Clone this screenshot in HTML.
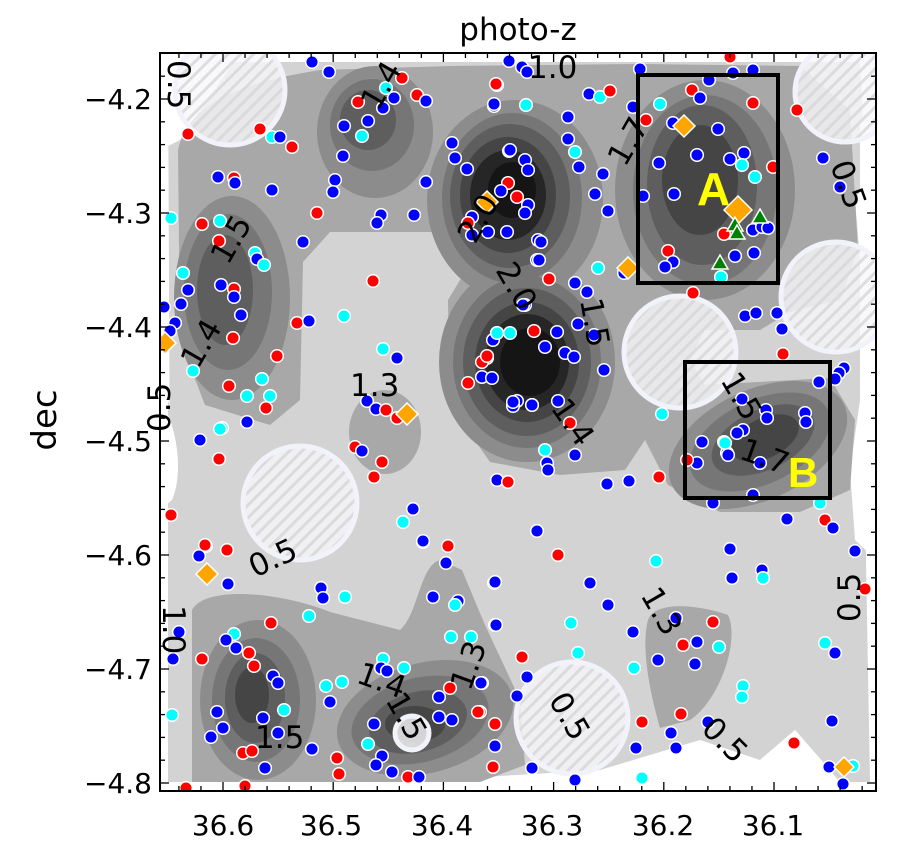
<!DOCTYPE html>
<html><head><meta charset="utf-8"><style>
html,body{margin:0;padding:0;background:#fff;}
svg{display:block;font-family:"DejaVu Sans","Liberation Sans",sans-serif;}
</style></head><body>
<svg id="s" width="919" height="856" viewBox="0 0 919 856" xmlns="http://www.w3.org/2000/svg">
<defs>
<pattern id="h" width="9" height="9" patternUnits="userSpaceOnUse" patternTransform="rotate(-45)">
<rect width="9" height="9" fill="#f7f7fb" fill-opacity="0.8"/><rect width="9" height="3" fill="#d6d6d8" fill-opacity="0.8"/>
</pattern>
<clipPath id="cp"><rect x="160" y="53" width="716" height="738"/></clipPath>
</defs>
<g clip-path="url(#cp)">
<rect x="160" y="53" width="716" height="738" fill="#fff"/>
<path d="M190,62 L860,62 L866,180 L855,200 L866,330 L866,560 L870,782 L840,782 L795,730 L760,760 L700,740 L600,770 L400,782 L168,782 L168,400 L185,470 L170,500 L168,62 Z" fill="#d3d3d3"/>
<path d="M160,53 L240,53 L180,140 L160,150 Z" fill="#fff"/>
<path d="M860,120 L876,110 L876,560 L855,540 L850,470 L860,400 Z" fill="#fff"/>
<path d="M160,400 C175,420 185,470 172,500 L160,510 Z" fill="#fff"/>
<path d="M710,791 L760,760 L795,730 L830,770 L845,791 Z" fill="#fff"/>
<g fill="#a8a8a8">
<path d="M178,150 C190,95 260,80 320,70 L450,66 L640,64 L800,66 L850,110 L858,250 L840,300 L790,312 L760,330 L705,330 L690,360 L705,385 L830,378 L855,420 L850,490 L800,512 L720,512 L668,485 L645,440 L625,470 L560,475 L490,462 L450,405 L448,300 L475,255 L440,232 L330,232 L303,262 L300,400 L270,425 L205,405 L180,340 Z"/>
<path d="M192,610 C205,585 280,592 330,612 L400,630 C418,615 420,565 440,560 L462,570 L485,625 L520,700 L525,765 L480,782 L192,782 Z"/>
<ellipse cx="385" cy="432" rx="36" ry="42"/>
<path d="M648,620 C655,600 700,605 728,615 C740,640 720,700 690,720 L660,728 C652,700 640,650 648,620 Z"/>
</g>
<g fill="#8c8c8c">
<ellipse cx="375" cy="132" rx="58" ry="66"/>
<ellipse cx="515" cy="200" rx="88" ry="100"/>
<ellipse cx="527" cy="362" rx="88" ry="100"/>
<ellipse cx="232" cy="298" rx="58" ry="102"/>
<ellipse cx="705" cy="190" rx="90" ry="110"/>
<ellipse cx="758" cy="445" rx="95" ry="55" transform="rotate(-25 758 445)"/>
<ellipse cx="258" cy="700" rx="58" ry="80"/>
<ellipse cx="425" cy="718" rx="90" ry="55" transform="rotate(-15 425 718)"/>
</g>
<g fill="#767676">
<ellipse cx="372" cy="125" rx="42" ry="46"/>
<ellipse cx="512" cy="198" rx="70" ry="85"/>
<ellipse cx="527" cy="362" rx="74" ry="86"/>
<ellipse cx="228" cy="292" rx="44" ry="78"/>
<ellipse cx="705" cy="190" rx="72" ry="95"/>
<ellipse cx="760" cy="442" rx="75" ry="42" transform="rotate(-25 760 442)"/>
<ellipse cx="256" cy="700" rx="44" ry="62"/>
<ellipse cx="420" cy="720" rx="70" ry="42" transform="rotate(-15 420 720)"/>
</g>
<g fill="#5e5e5e">
<ellipse cx="368" cy="120" rx="28" ry="30"/>
<ellipse cx="510" cy="196" rx="60" ry="72"/>
<ellipse cx="527" cy="362" rx="64" ry="74"/>
<ellipse cx="225" cy="290" rx="28" ry="55"/>
<ellipse cx="702" cy="185" rx="55" ry="80"/>
<ellipse cx="763" cy="440" rx="55" ry="30" transform="rotate(-25 763 440)"/>
<ellipse cx="255" cy="698" rx="30" ry="45"/>
<ellipse cx="418" cy="722" rx="50" ry="30" transform="rotate(-15 418 722)"/>
</g>
<g fill="#454545">
<ellipse cx="508" cy="195" rx="48" ry="58"/>
<ellipse cx="527" cy="362" rx="52" ry="60"/>
<ellipse cx="700" cy="180" rx="38" ry="55"/>
<ellipse cx="765" cy="438" rx="36" ry="20" transform="rotate(-25 765 438)"/>
<ellipse cx="252" cy="695" rx="17" ry="28"/>
<ellipse cx="415" cy="724" rx="30" ry="18"/>
</g>
<g fill="#262626">
<ellipse cx="508" cy="195" rx="38" ry="45"/>
<ellipse cx="527" cy="362" rx="42" ry="48"/>
</g>
<g fill="#151515">
<ellipse cx="512" cy="190" rx="24" ry="28"/>
<ellipse cx="530" cy="362" rx="30" ry="34"/>
</g>
<g stroke="#f2f2fa" stroke-width="5" fill="url(#h)">
<circle cx="230" cy="90" r="55"/>
<circle cx="845" cy="92" r="50"/>
<circle cx="836" cy="297" r="55"/>
<circle cx="680" cy="352" r="56"/>
<circle cx="300" cy="503" r="57"/>
<circle cx="572" cy="718" r="56"/>
<circle cx="412" cy="733" r="17"/>
</g>
<g id="dots" stroke="#fff" stroke-width="1.5"></g>
</g>
<g font-size="31" fill="#000">
<text transform="translate(168,60) rotate(90)">0.5</text>
<text transform="translate(528,78)">1.0</text>
<text transform="translate(378,112) rotate(-60)">1.4</text>
<text transform="translate(228,266) rotate(-60)">1.5</text>
<text transform="translate(198,370) rotate(-60)">1.4</text>
<text transform="translate(625,168) rotate(-60)">1.7</text>
<text transform="translate(475,245) rotate(-60)">2.0</text>
<text transform="translate(830,165) rotate(70)">0.5</text>
<text transform="translate(495,270) rotate(60)">2.0</text>
<text transform="translate(580,300) rotate(80)">1.5</text>
<text transform="translate(550,408) rotate(55)">1.4</text>
<text transform="translate(350,396)">1.3</text>
<text transform="translate(170,432) rotate(-90)">0.5</text>
<text transform="translate(255,578) rotate(-25)">0.5</text>
<text transform="translate(163,605) rotate(90)">1.0</text>
<text transform="translate(640,595) rotate(60)">1.3</text>
<text transform="translate(548,700) rotate(60)">0.5</text>
<text transform="translate(700,730) rotate(45)">0.5</text>
<text transform="translate(860,622) rotate(-90)">0.5</text>
<text transform="translate(720,380) rotate(60)">1.5</text>
<text transform="translate(738,458) rotate(20)">1.7</text>
<text transform="translate(255,748)">1.5</text>
<text transform="translate(355,682) rotate(20)">1.4</text>
<text transform="translate(385,700) rotate(60)">1.5</text>
<text transform="translate(470,692) rotate(-70)">1.3</text>
</g>
<rect x="638" y="75" width="140" height="208" fill="none" stroke="#000" stroke-width="4"/>
<rect x="685" y="362" width="145" height="136" fill="none" stroke="#000" stroke-width="4"/>
<text x="697" y="205" font-size="46" font-weight="bold" fill="#ffff00" font-family="Liberation Sans,sans-serif">A</text>
<text x="788" y="487" font-size="42" font-weight="bold" fill="#ffff00" font-family="Liberation Sans,sans-serif">B</text>
<rect x="160" y="53" width="716" height="738" fill="none" stroke="#000" stroke-width="2"/>
<g id="ticks" stroke="#000" stroke-width="1.3"></g>
<g font-size="28" fill="#000" text-anchor="middle">
<text x="223" y="835">36.6</text><text x="331" y="835">36.5</text><text x="442" y="835">36.4</text>
<text x="552" y="835">36.3</text><text x="663" y="835">36.2</text><text x="773" y="835">36.1</text>
</g>
<g font-size="28" fill="#000" text-anchor="end">
<text x="152" y="109">−4.2</text><text x="152" y="223">−4.3</text><text x="152" y="337">−4.4</text>
<text x="152" y="451">−4.5</text><text x="152" y="565">−4.6</text><text x="152" y="679">−4.7</text><text x="152" y="793">−4.8</text>
</g>
<text x="518" y="40" font-size="31" text-anchor="middle">photo-z</text>
<text transform="translate(56,420) rotate(-90)" font-size="34" text-anchor="middle">dec</text>
</svg>
<script>
var NS="http://www.w3.org/2000/svg";
var t=document.getElementById("ticks");
function L(x1,y1,x2,y2){var l=document.createElementNS(NS,"line");l.setAttribute("x1",x1);l.setAttribute("y1",y1);l.setAttribute("x2",x2);l.setAttribute("y2",y2);t.appendChild(l);}
for(var i=-2;i<40;i++){var x=223+i*22.04;if(x<161||x>875)continue;var len=(i%5==0)?9:5;L(x,791,x,791-len);L(x,53,x,53+len);}
for(var i=-3;i<40;i++){var y=783-i*22.8;if(y<54||y>790)continue;var len=(i%5==0)?9:5;L(160,y,160+len,y);L(876,y,876-len,y);}
var C={b:"#0000ff",r:"#ff0000",c:"#00ffff"};
var d="312,62,b 329,72,b 402,78,r 386,88,c 417,95,r 426,101,b 394,98,b 383,108,b 358,102,r 368,121,b 344,126,b 362,136,c 343,156,b 335,180,b 333,192,b 426,182,b 218,177,b 234,178,r 235,183,b 272,190,b 188,134,r 260,129,r 272,137,c 280,137,b 292,147,r 317,213,r 381,215,b 377,223,b 414,215,b 303,242,b 373,281,r 171,218,c 202,224,r 220,221,c 219,241,r 255,253,c 257,259,b 264,265,c 183,273,c 188,290,b 181,304,b 164,307,b 175,323,b 170,331,b 221,285,b 234,289,r 234,297,b 241,315,b 233,338,r 277,356,r 297,323,r 309,321,b 344,316,c 193,371,c 229,386,r 262,379,c 247,396,c 270,396,c 266,408,r 247,422,b 222,428,c 383,349,c 397,358,b 367,401,b 376,409,b 386,410,r 397,418,r 452,143,b 455,158,b 467,169,b 509,151,b 525,160,b 528,170,b 508,183,r 501,191,b 517,197,r 528,205,b 525,213,b 472,217,b 468,223,r 472,235,b 488,232,b 507,232,b 538,240,b 537,260,b 525,305,b 497,333,b 493,340,b 487,358,r 482,362,r 482,377,b 492,378,b 468,383,r 517,401,b 513,406,b 532,405,b 494,106,b 497,85,r 526,105,c 509,61,b 522,67,b 527,72,b 496,84,r 494,104,b 568,117,b 589,94,b 600,97,c 610,91,r 640,69,b 730,57,r 733,73,b 753,70,b 709,80,b 692,90,r 700,98,b 660,104,c 633,107,b 753,103,r 797,110,r 646,120,r 673,123,b 718,129,b 568,139,b 575,152,c 579,167,b 510,150,b 603,174,b 659,163,b 697,155,b 730,159,b 744,153,b 742,165,c 755,177,c 773,167,r 823,158,b 840,187,b 595,194,b 643,196,b 674,194,b 608,211,b 724,234,r 753,230,b 762,227,b 768,228,b 541,242,b 539,260,b 598,268,c 624,273,b 668,251,r 673,262,b 665,267,b 735,256,b 754,253,b 721,277,c 549,279,r 575,283,b 587,292,b 693,293,r 523,305,b 745,316,b 756,313,b 777,313,b 782,329,b 594,335,b 578,324,b 557,332,b 545,347,b 565,353,b 574,357,b 534,331,r 510,333,c 497,333,c 487,356,r 604,370,b 783,354,r 844,368,b 839,373,b 835,379,b 819,382,b 513,402,b 532,405,b 558,401,b 570,423,r 662,414,c 545,450,c 742,399,b 766,410,b 767,418,b 805,413,b 806,422,b 743,430,b 737,433,b 724,442,c 702,442,b 727,453,b 575,455,b 547,463,b 548,470,b 497,480,b 508,482,r 607,484,b 629,481,b 659,477,r 725,443,c 728,455,b 697,463,b 687,460,r 760,463,b 713,503,b 753,495,b 820,503,c 787,519,b 825,520,r 833,528,b 537,531,b 558,555,r 656,561,c 730,549,b 762,570,b 763,578,c 732,578,b 855,551,b 865,589,r 494,583,b 590,583,b 608,605,b 571,623,c 495,625,b 633,632,b 676,618,b 713,622,r 683,645,r 697,642,b 719,647,c 658,660,b 695,664,b 522,657,r 578,653,c 634,668,c 743,686,c 742,697,c 825,643,c 835,653,b 527,677,b 482,683,b 517,696,b 480,712,r 495,724,r 681,714,r 642,722,r 708,722,b 671,733,b 832,721,b 495,746,b 636,748,b 676,748,b 794,743,r 493,767,r 532,768,b 575,780,b 642,778,c 829,767,b 843,784,b 853,766,c 206,546,r 227,550,r 199,556,b 228,584,b 321,588,b 323,598,b 345,597,c 309,616,c 271,623,r 423,542,b 448,546,r 446,563,b 433,597,b 458,601,b 455,605,c 495,582,b 496,625,b 451,637,c 471,637,c 179,632,b 173,659,b 202,659,r 234,634,c 226,640,b 236,648,b 249,653,r 254,666,r 273,676,b 278,683,b 284,710,c 263,718,b 217,712,b 223,728,b 211,737,b 278,733,b 243,753,r 252,751,r 265,768,b 312,749,b 172,715,c 326,686,c 342,682,c 330,702,b 383,659,c 381,668,b 387,671,b 404,668,c 439,697,b 450,688,r 481,683,b 478,712,r 439,717,b 452,720,b 374,724,b 368,744,c 382,756,b 376,765,b 392,772,b 337,758,r 339,774,r 408,777,r 419,777,b 186,788,r 245,786,r 200,440,b 219,459,r 220,429,c 171,515,r 205,545,r 413,509,b 403,522,c 423,541,b 355,447,r 362,451,b 382,462,r 374,477,r";
var g=document.getElementById("dots");
d.split(" ").forEach(function(p){var a=p.split(",");var c=document.createElementNS(NS,"circle");c.setAttribute("cx",a[0]);c.setAttribute("cy",a[1]);c.setAttribute("r",6.3);c.setAttribute("fill",C[a[2]]);g.appendChild(c);});
function dia(x,y,s){var p=document.createElementNS(NS,"polygon");p.setAttribute("points",(x)+","+(y-s)+" "+(x+s)+","+y+" "+x+","+(y+s)+" "+(x-s)+","+y);p.setAttribute("fill","#ffa500");g.appendChild(p);}
[[487,202,11],[684,126,11],[628,268,11],[407,414,11],[165,343,11],[207,574,11],[844,767,10],[738,210,14]].forEach(function(a){dia(a[0],a[1],a[2]);});
function tri(x,y){var p=document.createElementNS(NS,"polygon");p.setAttribute("points",x+","+(y-8)+" "+(x+8)+","+(y+6)+" "+(x-8)+","+(y+6));p.setAttribute("fill","#008000");g.appendChild(p);}
[[760,217],[735,225],[737,233],[720,263]].forEach(function(a){tri(a[0],a[1]);});
</script>
</body></html>
